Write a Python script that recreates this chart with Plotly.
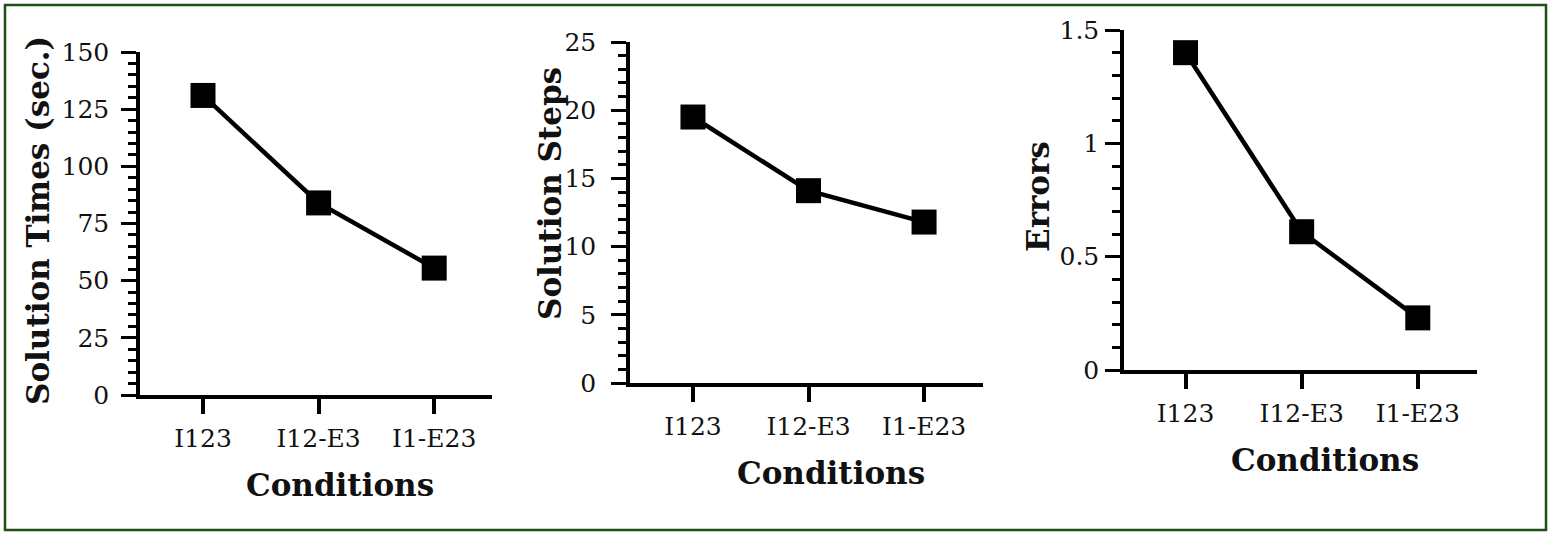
import plotly.graph_objects as go

W, H = 1551, 535  # design size of the page (pixels)

conditions = ["I123", "I12-E3", "I1-E23"]
solution_times = [131, 84, 55.5]
solution_steps = [19.5, 14.1, 11.8]
errors = [1.40, 0.61, 0.23]

y_titles = ["Solution Times (sec.)", "Solution Steps", "Errors"]
x_title = "Conditions"

# pixel layout of each panel: y-axis x, right end x, y of zero, y of top
panels = [
    dict(x0=140, x1=492, yb=395, yt=52, rng=[0, 150], dt=25, mdt=5, cat_r=[-0.545, 2.5], lstand=7, ytx=38, yty=221),
    dict(x0=630, x1=983, yb=383, yt=42, rng=[0, 25], dt=5, mdt=1, cat_r=[-0.545, 2.51], lstand=10, ytx=550, yty=194),
    dict(x0=1124, x1=1477, yb=370, yt=30, rng=[0, 1.5], dt=0.5, mdt=0.1, cat_r=[-0.53, 2.51], lstand=1, ytx=1038, yty=197),
]
series = [solution_times, solution_steps, errors]

TICKFONT = dict(family="DejaVu Serif", size=25, color="#111")
TITLEFONT = dict(family="DejaVu Serif", size=31, color="#111", weight="bold")

fig = go.Figure()
layout = dict(
    width=W, height=H, autosize=False,
    margin=dict(l=0, r=0, t=0, b=0, pad=0),
    paper_bgcolor="white", plot_bgcolor="white",
    showlegend=False,
    annotations=[], shapes=[],
)

for i, (p, vals) in enumerate(zip(panels, series)):
    n = "" if i == 0 else str(i + 1)
    fig.add_trace(go.Scatter(
        x=conditions, y=vals, xaxis="x" + n, yaxis="y" + n,
        mode="lines+markers",
        line=dict(color="black", width=4.5),
        marker=dict(symbol="square", size=25, color="black"),
        cliponaxis=False,
    ))
    xd = [p["x0"] / W, p["x1"] / W]
    yd = [(H - p["yb"]) / H, (H - p["yt"]) / H]
    layout["xaxis" + n] = dict(
        domain=xd, anchor="y" + n, type="category", range=p["cat_r"],
        showline=True, linecolor="black", linewidth=3.5,
        ticks="outside", ticklen=15, tickwidth=3.5, tickcolor="black",
        tickfont=TICKFONT, ticklabelstandoff=3, automargin=False,
        showgrid=False, zeroline=False, fixedrange=True,
    )
    layout["yaxis" + n] = dict(
        domain=yd, anchor="x" + n, range=p["rng"], dtick=p["dt"], tick0=0,
        showline=True, linecolor="black", linewidth=3.5,
        ticks="outside", ticklen=15, tickwidth=3, tickcolor="black",
        tickfont=TICKFONT, ticklabelstandoff=p["lstand"], automargin=False,
        minor=dict(dtick=p["mdt"], ticks="outside", ticklen=8, tickwidth=3, tickcolor="black", showgrid=False),
        showgrid=False, zeroline=False, fixedrange=True,
    )
    # x-axis title
    layout["annotations"].append(dict(
        text=x_title, xref="paper", yref="paper",
        x=((p["x0"] + p["x1"]) / 2 + 24) / W, y=(H - (p["yb"] + 90)) / H,
        xanchor="center", yanchor="middle", showarrow=False, font=TITLEFONT,
    ))
    # y-axis title
    layout["annotations"].append(dict(
        text=y_titles[i], xref="paper", yref="paper",
        x=p["ytx"] / W, y=(H - p["yty"]) / H, textangle=-90,
        xanchor="center", yanchor="middle", showarrow=False, font=TITLEFONT,
    ))

# green frame around the figure
layout["shapes"].append(dict(
    type="rect", xref="paper", yref="paper",
    x0=5 / W, x1=1546 / W, y0=(H - 530) / H, y1=(H - 5) / H,
    line=dict(color="#1f4f17", width=2.5), fillcolor="rgba(0,0,0,0)",
))

fig.update_layout(**layout)
post = (
    "document.body.style.margin='0';"
    "document.body.style.overflow='hidden';"
)
fig.write_html("out.html", config={"displayModeBar": False}, post_script=post)
